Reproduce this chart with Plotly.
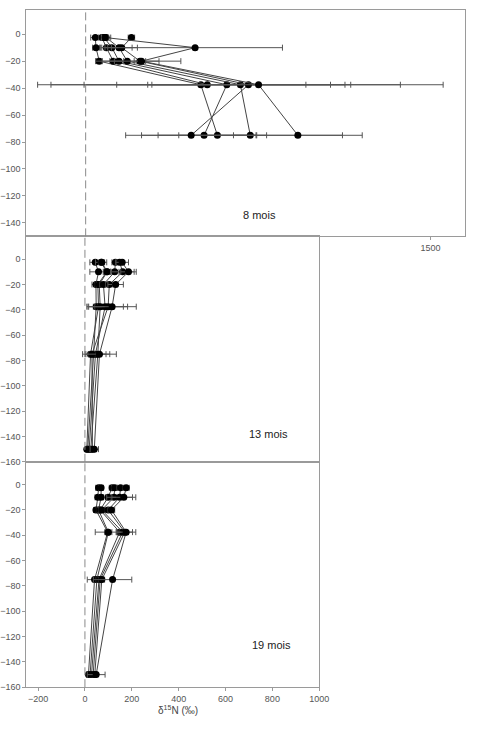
import plotly.graph_objects as go

# Depths (cm)
depths = [-2.5, -10, -20, -37.5, -75, -150]

# 8 mois (no -150 data)
m8_values = [
    [42, 45, 59, 501, 573],
    [71, 90, 120, 529, None],
    [80, 114, 145, 614, 515],
    [89, 145, 181, 673, 716],
    [199, 157, 236, 708, 459],
    [85, 476, 243, 752, 923],
]
m8_errors = [
    [20, 15, 12, 652, 168],
    [15, 20, 15, 536, None],
    [12, 30, 20, 344, 272],
    [20, 80, 138, 882, 401],
    [14, 45, 25, 420, 285],
    [15, 380, 171, 617, 280],
]

# 13 mois
m13_values = [
    [44, 58, 47, 48, 37, 12],
    [69, 93, 55, 58, 24, 8],
    [72, 95, 61, 65, 55, 25],
    [130, 127, 79, 86, 45, 18],
    [148, 161, 104, 99, 30, 32],
    [159, 186, 131, 116, 62, 40],
]
m13_errors = [
    [23, 37, 17, 12, 12, 6],
    [24, 15, 12, 15, 10, 6],
    [12, 15, 12, 10, 51, 8],
    [15, 18, 15, 78, 45, 8],
    [15, 49, 15, 83, 12, 10],
    [27, 33, 33, 103, 72, 18],
]

# 19 mois
m19_values = [
    [58, 55, 47, 97, 41, 15],
    [69, 69, 58, 100, 51, 22],
    [116, 99, 65, 148, 60, 28],
    [127, 124, 72, 161, 65, 35],
    [152, 148, 99, 170, 72, 42],
    [176, 166, 113, 176, 118, 48],
]
m19_errors = [
    [12, 12, 10, 53, 31, 8],
    [10, 10, 10, 15, 10, 8],
    [12, 12, 12, 15, 12, 8],
    [12, 12, 12, 15, 12, 8],
    [15, 55, 12, 33, 12, 8],
    [13, 51, 14, 41, 82, 38],
]

panel_labels = ["8 mois", "13 mois", "19 mois"]
y_ticks_top = [0, -20, -40, -60, -80, -100, -120, -140]
y_ticks = [0, -20, -40, -60, -80, -100, -120, -140, -160]
x_ticks = [-200, 0, 200, 400, 600, 800, 1000]
x_ticks_top = [1500]

W, H = 483, 733
fig = go.Figure()

def add_panel(values, errors, xa, ya):
    for v, e in zip(values, errors):
        n = len(v)
        fig.add_trace(go.Scatter(
            x=v, y=depths[:n], mode="lines+markers",
            xaxis=xa, yaxis=ya, showlegend=False,
            line=dict(color="#444444", width=1),
            marker=dict(color="black", size=7),
            error_x=dict(type="data", array=e, color="#555555", thickness=1, width=3),
            connectgaps=False,
        ))

add_panel(m8_values, m8_errors, "x", "y")
add_panel(m13_values, m13_errors, "x2", "y2")
add_panel(m19_values, m19_errors, "x3", "y3")

def px(x):
    return x / W

def py(y):
    return 1 - y / H

font = dict(family="Liberation Sans, Arial, sans-serif", size=9, color="#555555")
axcommon = dict(showline=True, mirror=True, linecolor="#9a9a9a", linewidth=1,
                showgrid=False, zeroline=False, ticks="outside", ticklen=3,
                tickcolor="#9a9a9a", tickfont=font)

fig.update_layout(
    width=W, height=H, margin=dict(l=0, r=0, t=0, b=0),
    paper_bgcolor="white", plot_bgcolor="rgba(0,0,0,0)",
    xaxis=dict(domain=[px(24), px(475)], anchor="y", range=[-258, 1651],
               tickvals=x_ticks_top, **axcommon),
    yaxis=dict(domain=[py(238), py(10)], anchor="x", range=[-150, 18],
               tickvals=y_ticks_top, **axcommon),
    xaxis2=dict(domain=[px(24), px(325)], anchor="y2", range=[-250, 1000],
                tickvals=x_ticks, showticklabels=False, **{k: v for k, v in axcommon.items() if k != "ticks"}, ticks=""),
    yaxis2=dict(domain=[py(465), py(238)], anchor="x2", range=[-160, 18],
                tickvals=y_ticks, **axcommon),
    xaxis3=dict(domain=[px(24), px(325)], anchor="y3", range=[-250, 1000],
                tickvals=x_ticks, **axcommon),
    yaxis3=dict(domain=[py(692), py(465)], anchor="x3", range=[-160, 18],
                tickvals=y_ticks, **axcommon),
)

for xa, ya in [("x", "y"), ("x2", "y2"), ("x3", "y3")]:
    fig.add_shape(type="line", xref=xa, yref=ya + " domain", x0=0, x1=0, y0=0, y1=1,
                  line=dict(color="#8a8a8a", width=1, dash="8px,4px"))

label_pos = [(264, 208), (273, 437), (276, 657)]
for txt, (lx, ly) in zip(panel_labels, label_pos):
    fig.add_annotation(text=txt, x=px(lx), y=py(ly), xref="paper", yref="paper",
                       showarrow=False, font=dict(family="Liberation Sans, Arial, sans-serif",
                                                  size=11, color="#222222"))

fig.add_annotation(text="δ<sup>15</sup>N (‰)", x=px(180), y=py(723), xref="paper", yref="paper",
                   showarrow=False, font=dict(family="Liberation Sans, Arial, sans-serif",
                                              size=10, color="#444444"))

fig.write_html("out.html")
